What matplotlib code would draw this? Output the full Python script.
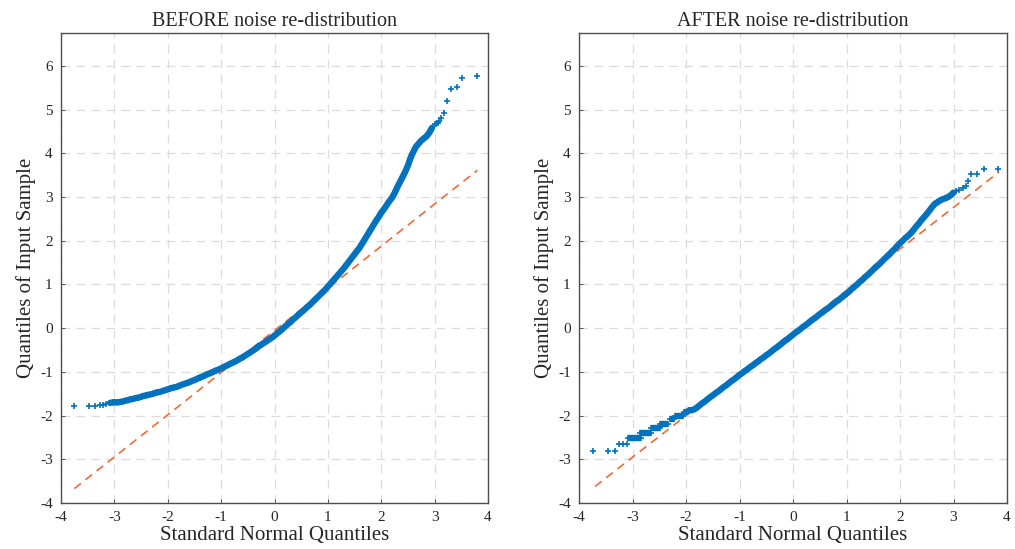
import matplotlib
matplotlib.use("Agg")
import matplotlib.pyplot as plt

# ---------------- data ----------------
titles = ["BEFORE noise re-distribution", "AFTER noise re-distribution"]
xlabel = "Standard Normal Quantiles"
ylabel = "Quantiles of Input Sample"
xticks = [-4, -3, -2, -1, 0, 1, 2, 3, 4]
yticks = [-4, -3, -2, -1, 0, 1, 2, 3, 4, 5, 6]

# BEFORE panel: theoretical quantiles (x) and sample quantiles (y)
before_x = [-3.75, -3.48, -3.36, -3.26, -3.21, -3.16, -3.08, -3.03, -2.98, -2.94,
            -2.90, -2.85, -2.80, -2.75, -2.70, -2.65, -2.60, -2.55, -2.50, -2.45,
            -2.40, -2.35, -2.30, -2.25, -2.20, -2.15, -2.10, -2.05, -2.00, -1.95,
            -1.90, -1.85, -1.80, -1.75, -1.70, -1.65, -1.60, -1.55, -1.50, -1.45,
            -1.40, -1.35, -1.30, -1.25, -1.20, -1.15, -1.10, -1.05, -1.00, -0.95,
            -0.90, -0.85, -0.80, -0.75, -0.70, -0.65, -0.60, -0.55, -0.50, -0.45,
            -0.40, -0.35, -0.30, -0.25, -0.20, -0.15, -0.10, -0.05, 0.00, 0.05,
            0.10, 0.15, 0.20, 0.25, 0.30, 0.35, 0.40, 0.45, 0.50, 0.55,
            0.60, 0.65, 0.70, 0.75, 0.80, 0.85, 0.90, 0.95, 1.00, 1.05,
            1.10, 1.15, 1.20, 1.25, 1.30, 1.35, 1.40, 1.45, 1.50, 1.55,
            1.60, 1.65, 1.70, 1.75, 1.80, 1.85, 1.90, 1.95, 2.00, 2.05,
            2.10, 2.15, 2.20, 2.25, 2.30, 2.35, 2.40, 2.45, 2.50, 2.55,
            2.60, 2.65, 2.70, 2.75, 2.80, 2.85, 2.90, 2.95, 3.00, 3.03,
            3.06, 3.09, 3.12, 3.17, 3.24, 3.30, 3.41, 3.52, 3.80]
before_y = [-1.79, -1.79, -1.79, -1.75, -1.75, -1.74, -1.71, -1.70, -1.70, -1.70,
            -1.69, -1.68, -1.66, -1.65, -1.63, -1.62, -1.60, -1.59, -1.57, -1.55,
            -1.54, -1.52, -1.51, -1.49, -1.47, -1.46, -1.44, -1.42, -1.40, -1.38,
            -1.36, -1.35, -1.33, -1.30, -1.28, -1.26, -1.24, -1.21, -1.19, -1.16,
            -1.13, -1.11, -1.08, -1.05, -1.03, -1.00, -0.97, -0.95, -0.92, -0.89,
            -0.86, -0.83, -0.80, -0.77, -0.74, -0.70, -0.67, -0.63, -0.59, -0.55,
            -0.51, -0.47, -0.42, -0.38, -0.34, -0.30, -0.26, -0.22, -0.17, -0.12,
            -0.07, -0.02, 0.04, 0.09, 0.14, 0.20, 0.25, 0.31, 0.36, 0.41,
            0.47, 0.52, 0.58, 0.64, 0.70, 0.76, 0.82, 0.88, 0.95, 1.02,
            1.09, 1.16, 1.23, 1.30, 1.37, 1.45, 1.53, 1.61, 1.69, 1.77,
            1.85, 1.95, 2.05, 2.15, 2.25, 2.35, 2.45, 2.54, 2.64, 2.72,
            2.81, 2.90, 2.98, 3.09, 3.22, 3.34, 3.46, 3.58, 3.72, 3.90,
            4.03, 4.15, 4.22, 4.29, 4.34, 4.39, 4.47, 4.58, 4.66, 4.68,
            4.70, 4.73, 4.81, 4.91, 5.19, 5.48, 5.52, 5.72, 5.77]
# index range of the densely packed part of the sample (where marks merge)
before_dense = (6, 128)
before_ref_x = [-3.75, 3.80]
before_ref_y = [-3.67, 3.61]

# AFTER panel
after_x = [-3.73, -3.46, -3.33, -3.25, -3.18, -3.11,
           -3.09, -3.05, -3.01, -2.97, -2.93, -2.89, -2.85,
           -2.86, -2.82, -2.78, -2.74, -2.70, -2.66,
           -2.65, -2.61, -2.57, -2.53, -2.49,
           -2.49, -2.45, -2.41, -2.37, -2.33,
           -2.30, -2.26, -2.22,
           -2.21, -2.17, -2.13, -2.09, -2.06,
           -2.04, -2.00, -1.96,
           -1.94, -1.90,
           -1.85, -1.80, -1.75, -1.70, -1.65, -1.60, -1.55, -1.50, -1.45,
           -1.40, -1.35, -1.30, -1.25, -1.20, -1.15, -1.10, -1.05, -1.00, -0.95,
           -0.90, -0.85, -0.80, -0.75, -0.70, -0.65, -0.60, -0.55, -0.50, -0.45,
           -0.40, -0.35, -0.30, -0.25, -0.20, -0.15, -0.10, -0.05, 0.00, 0.05,
           0.10, 0.15, 0.20, 0.25, 0.30, 0.35, 0.40, 0.45, 0.50, 0.55,
           0.60, 0.65, 0.70, 0.75, 0.80, 0.85, 0.90, 0.95, 1.00, 1.05,
           1.10, 1.15, 1.20, 1.25, 1.30, 1.35, 1.40, 1.45, 1.50, 1.55,
           1.60, 1.65, 1.70, 1.75, 1.80, 1.85, 1.90, 1.95, 2.00, 2.05,
           2.10, 2.15, 2.20, 2.25, 2.30, 2.35, 2.40, 2.45, 2.50, 2.55,
           2.60, 2.65, 2.70, 2.75, 2.80, 2.85, 2.90, 2.95, 3.00, 3.05,
           3.11, 3.18, 3.23, 3.28, 3.33, 3.44, 3.57, 3.84]
after_y = [-2.82, -2.82, -2.82, -2.65, -2.65, -2.65,
           -2.51, -2.51, -2.51, -2.51, -2.51, -2.51, -2.51,
           -2.39, -2.39, -2.39, -2.39, -2.39, -2.39,
           -2.29, -2.29, -2.29, -2.29, -2.29,
           -2.19, -2.19, -2.19, -2.19, -2.19,
           -2.09, -2.09, -2.09,
           -2.00, -2.00, -2.00, -2.00, -2.00,
           -1.93, -1.93, -1.93,
           -1.88, -1.88,
           -1.86, -1.82, -1.77, -1.72, -1.68, -1.63, -1.58, -1.54, -1.49,
           -1.45, -1.40, -1.35, -1.31, -1.26, -1.21, -1.17, -1.12, -1.07, -1.03,
           -0.98, -0.94, -0.89, -0.85, -0.80, -0.76, -0.71, -0.67, -0.62, -0.58,
           -0.53, -0.48, -0.44, -0.39, -0.34, -0.29, -0.25, -0.20, -0.15, -0.10,
           -0.06, -0.01, 0.04, 0.08, 0.13, 0.18, 0.22, 0.27, 0.32, 0.36,
           0.41, 0.45, 0.50, 0.55, 0.60, 0.64, 0.69, 0.74, 0.79, 0.84,
           0.90, 0.95, 1.00, 1.06, 1.11, 1.17, 1.22, 1.28, 1.34, 1.40,
           1.45, 1.51, 1.57, 1.63, 1.69, 1.75, 1.81, 1.88, 1.94, 2.00,
           2.06, 2.11, 2.17, 2.24, 2.32, 2.39, 2.47, 2.54, 2.61, 2.69,
           2.77, 2.84, 2.88, 2.92, 2.95, 2.97, 3.00, 3.04, 3.10, 3.13,
           3.16, 3.21, 3.25, 3.37, 3.52, 3.53, 3.63, 3.65]
after_dense = (40, 140)
# plateau runs of tied values in the lower tail (start index, end index)
after_runs = [(6, 13), (13, 19), (19, 24), (24, 29), (29, 32), (32, 37), (37, 40)]
after_ref_x = [-3.70, 3.85]
after_ref_y = [-3.62, 3.57]

# ---------------- styling ----------------
FONT = ["Liberation Serif", "DejaVu Serif"]
plt.rcParams["font.family"] = FONT
DATA_COLOR = "#0072BD"
REF_COLOR = "#F26A3C"
GRID_COLOR = "#DCDCDC"
EDGE_COLOR = "#4D4D4D"
TICK_COLOR = "#404040"
TEXT_COLOR = "#262626"

fig = plt.figure(figsize=(10.15, 5.49), dpi=100)
positions = [[61 / 1015, 46 / 549, 427 / 1015, 470 / 549],
             [579 / 1015, 46 / 549, 428 / 1015, 470 / 549]]
panels = [(before_x, before_y, before_ref_x, before_ref_y, before_dense, []),
          (after_x, after_y, after_ref_x, after_ref_y, after_dense, after_runs)]

for pos, title, (xs, ys, rx, ry, dense, runs) in zip(positions, titles, panels):
    ax = fig.add_axes(pos)
    ax.set_xlim(-4, 4)
    ax.set_ylim(-4, 6.75)
    ax.set_xticks(xticks)
    ax.set_yticks(yticks)
    ax.set_xticklabels([str(t) for t in xticks])
    ax.set_yticklabels([str(t) for t in yticks])
    ax.grid(True, color=GRID_COLOR, linestyle=(0, (7, 5)), linewidth=0.9)
    ax.set_axisbelow(True)
    ax.tick_params(direction="in", length=3, width=0.6, colors=TICK_COLOR,
                   labelsize=11, labelcolor=TEXT_COLOR, pad=6)
    for sp in ax.spines.values():
        sp.set_color(EDGE_COLOR)
        sp.set_linewidth(1.0)
    ax.plot(rx, ry, linestyle=(0, (5, 3.5)), color=REF_COLOR, linewidth=1.2, zorder=2)
    # densely overlapping marks merge into a solid band
    a, b = dense
    ax.plot(xs[a:b], ys[a:b], linestyle="-", color=DATA_COLOR, linewidth=4.6,
            solid_capstyle="round", solid_joinstyle="round", zorder=3)
    for (s, e) in runs:
        ax.plot(xs[s:e], ys[s:e], linestyle="-", color=DATA_COLOR, linewidth=4.6,
                solid_capstyle="butt", zorder=3)
    ax.plot(xs, ys, linestyle="none", marker="+", markersize=5.0,
            markeredgewidth=1.2, color=DATA_COLOR, zorder=4)
    ax.set_title(title, fontsize=14.5, color=TEXT_COLOR, pad=5)
    ax.set_xlabel(xlabel, fontsize=15, color=TEXT_COLOR, labelpad=1)
    ax.set_ylabel(ylabel, fontsize=15, color=TEXT_COLOR, labelpad=3)

fig.savefig("out.png", dpi=100)
